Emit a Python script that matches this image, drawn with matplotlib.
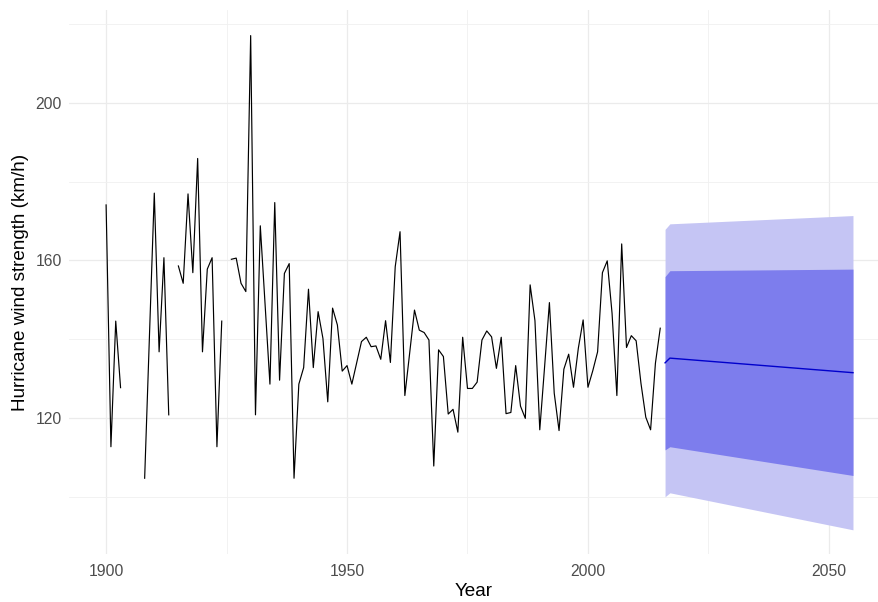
import numpy as np
import matplotlib
matplotlib.use("Agg")
import matplotlib.pyplot as plt
from matplotlib.ticker import MultipleLocator

nan = np.nan
years = list(range(1900, 2016))
wind = [174.1, 112.7, 144.6, 127.7, nan, nan, nan, nan, 104.7, 141.0,
        177.1, 136.8, 160.7, 120.8, nan, 158.6, 154.2, 176.9, 156.9, 185.9,
        136.8, 157.8, 160.7, 112.7, 144.6, nan, 160.3, 160.6, 154.2, 152.1,
        217.1, 120.8, 168.8, 148.7, 128.6, 174.7, 129.6, 156.7, 159.2, 104.7,
        128.6, 132.8, 152.7, 132.8, 147.0, 140.2, 124.1, 147.9, 143.6, 131.9,
        133.3, 128.6, 134.0, 139.4, 140.5, 138.1, 138.3, 134.9, 144.7, 134.1,
        158.4, 167.3, 125.7, 136.5, 147.4, 142.3, 141.7, 139.8, 107.8, 137.3,
        135.6, 121.0, 122.2, 116.4, 140.5, 127.5, 127.5, 129.1, 139.8, 142.1,
        140.6, 132.6, 140.5, 121.1, 121.4, 133.3, 123.0, 119.9, 153.8, 144.7,
        117.0, 133.0, 149.3, 126.3, 116.8, 132.4, 136.2, 127.8, 137.7, 144.9,
        127.8, 132.0, 136.8, 156.9, 159.9, 146.6, 125.7, 164.2, 137.9, 140.9,
        139.6, 128.8, 120.2, 117.0, 133.9, 142.8]

fc_years = [2016, 2017, 2055]
fc_mean = [134.0, 135.2, 131.5]
fc_lo80 = [111.9, 112.7, 105.4]
fc_hi80 = [155.9, 157.4, 157.8]
fc_lo95 = [100.0, 101.0, 91.6]
fc_hi95 = [167.9, 169.3, 171.4]

x_ticks = [1900, 1950, 2000, 2050]
y_ticks = [120, 160, 200]

plt.rcParams['font.family'] = ['Liberation Sans', 'DejaVu Sans']

W, H = 879, 602
fig = plt.figure(figsize=(W / 100, H / 100), dpi=100)
left, right, top, bottom = 69, 879, 10, 554
ax = fig.add_axes([left / W, (H - bottom) / H, (right - left) / W, (bottom - top) / H])

ax.fill_between(fc_years, fc_lo95, fc_hi95, color='#C5C5F4', linewidth=0, zorder=2)
ax.fill_between(fc_years, fc_lo80, fc_hi80, color='#7D7DED', linewidth=0, zorder=3)
ax.plot(fc_years, fc_mean, color='#0000CC', linewidth=1.0, zorder=4)
ax.plot(years, wind, color='black', linewidth=0.85, zorder=5)

ax.set_xlim(1892.3, 2060.4)
ax.set_ylim(85.46, 223.6)
ax.set_xticks(x_ticks)
ax.set_yticks(y_ticks)
ax.xaxis.set_minor_locator(MultipleLocator(25))
ax.yaxis.set_minor_locator(MultipleLocator(20))

ax.grid(True, which='major', color='#EBEBEB', linewidth=0.9, zorder=0)
ax.grid(True, which='minor', color='#F0F0F0', linewidth=0.6, zorder=0)
ax.set_axisbelow(True)
for s in ax.spines.values():
    s.set_visible(False)
ax.tick_params(which='both', length=0, labelsize=11.3, labelcolor='#4D4D4D')
ax.tick_params(axis='x', pad=7)
ax.tick_params(axis='y', pad=5)

ax.set_xlabel('Year', fontsize=13.6, color='black', labelpad=3)
ax.set_ylabel('Hurricane wind strength (km/h)', fontsize=13.6, color='black', labelpad=5)

fig.savefig('out.png', dpi=100)
